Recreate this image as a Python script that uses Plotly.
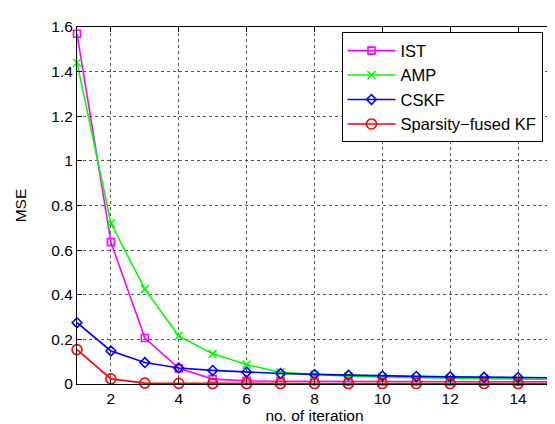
import plotly.graph_objects as go

iterations = list(range(1, 16))
ist = [1.57, 0.636, 0.206, 0.07, 0.022, 0.014, 0.012, 0.012, 0.011, 0.011, 0.011, 0.011, 0.010, 0.010, 0.010]
amp = [1.44, 0.72, 0.425, 0.215, 0.135, 0.087, 0.052, 0.042, 0.035, 0.031, 0.028, 0.026, 0.024, 0.022, 0.021]
cskf = [0.275, 0.148, 0.096, 0.072, 0.061, 0.053, 0.047, 0.043, 0.039, 0.036, 0.034, 0.032, 0.030, 0.029, 0.028]
kf = [0.154, 0.023, 0.004, 0.003, 0.002, 0.002, 0.002, 0.002, 0.002, 0.002, 0.002, 0.002, 0.002, 0.002, 0.002]

series = [
    ("IST", ist, "#FF00FF", "square-open", 7),
    ("AMP", amp, "#00FF00", "x-thin-open", 8),
    ("CSKF", cskf, "#0000FF", "diamond-open", 7.5),
    ("Sparsity\u2212fused KF", kf, "#FF0000", "circle-open", 10),
]

fig = go.Figure()
for name, vals, color, sym, sz in series:
    fig.add_trace(go.Scatter(
        x=iterations, y=vals, name=name, mode="lines+markers",
        line=dict(color=color, width=1.6),
        marker=dict(symbol=sym, size=sz, color=color, line=dict(color=color, width=1.6)),
        cliponaxis=False,
    ))

axis_common = dict(
    showline=True, linecolor="black", linewidth=1, mirror="ticks",
    ticks="inside", ticklen=5, tickcolor="black",
    showgrid=True, gridcolor="#555555", griddash="dot", gridwidth=1,
    zeroline=False, tickfont=dict(size=15.5, color="black"),
)

fig.update_layout(
    width=555, height=424,
    margin=dict(l=69, r=10, t=11, b=48),
    paper_bgcolor="white", plot_bgcolor="white",
    font=dict(family="Liberation Sans, Arial, sans-serif", size=15.5, color="black"),
    showlegend=True,
    legend=dict(
        x=0.98, y=0.985, xanchor="right", yanchor="top",
        bordercolor="black", borderwidth=1, bgcolor="white",
        font=dict(size=16.5), tracegroupgap=0, itemwidth=48,
    ),
    xaxis=dict(range=[1, 15], tickvals=[2, 4, 6, 8, 10, 12, 14],
               title=dict(text="no. of iteration", standoff=2, font=dict(size=15.5)),
               **axis_common),
    yaxis=dict(range=[0, 1.6], tickvals=[0, 0.2, 0.4, 0.6, 0.8, 1, 1.2, 1.4, 1.6],
               ticktext=["0", "0.2", "0.4", "0.6", "0.8", "1", "1.2", "1.4", "1.6"],
               title=dict(text="MSE", standoff=20, font=dict(size=15.5)),
               **axis_common),
)

fig.write_html("out.html")
